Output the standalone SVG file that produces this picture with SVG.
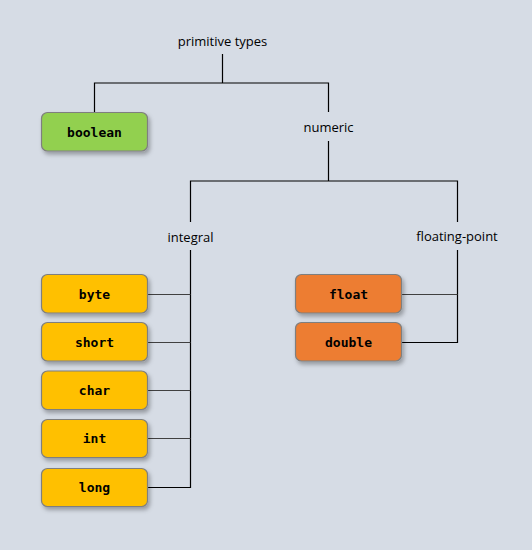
<svg xmlns="http://www.w3.org/2000/svg" width="532" height="550" viewBox="0 0 532 550">
<defs>
<filter id="sh" x="-20%" y="-20%" width="150%" height="160%">
<feDropShadow dx="2" dy="3" stdDeviation="2" flood-color="#000" flood-opacity="0.3"/>
</filter>
<style>
.box{stroke:#7f7f7f;stroke-width:1.2;filter:url(#sh)}
.g{fill:#92D050}.y{fill:#FFC000}.o{fill:#ED7D31}
.bt{font-family:"DejaVu Sans Mono","Liberation Mono",monospace;font-weight:bold;font-size:13px;fill:#000;text-anchor:middle}
.lb{font-family:"Open Sans","Liberation Sans",sans-serif;font-size:13px;fill:#000;text-anchor:middle}
.c{fill:none;stroke:#000;stroke-width:1.2}
.c2{fill:none;stroke:#404040;stroke-width:1.2}
</style>
</defs>
<rect width="532" height="550" fill="#D6DCE5"/>
<g id="connectors">
<path class="c" d="M222.5 54V83M94.5 112V83H328.5V112"/>
<path class="c" d="M328.5 141V181M190.5 222V181H457.5V222"/>
<path class="c" d="M190.5 250V487.5H148"/>
<path class="c2" d="M148 294.5H190.5M148 342.5H190.5M148 390.5H190.5M148 438.5H190.5"/>
<path class="c" d="M457.5 250V342.5H401"/>
<path class="c2" d="M401 294.5H457.5"/>
</g>
<g id="primitive-types"><text class="lb" x="222.5" y="46">primitive types</text></g>
<g id="numeric"><text class="lb" x="328.5" y="132">numeric</text></g>
<g id="integral"><text class="lb" x="190.5" y="242">integral</text></g>
<g id="floating-point"><text class="lb" x="457" y="241">floating-point</text></g>
<g id="boolean"><rect class="box g" x="41.5" y="112.5" width="106" height="38.5" rx="6"/><text class="bt" x="94.5" y="136.5">boolean</text></g>
<g id="byte"><rect class="box y" x="41.5" y="274.5" width="106" height="38.5" rx="6"/><text class="bt" x="94.5" y="298.5">byte</text></g>
<g id="short"><rect class="box y" x="41.5" y="322.5" width="106" height="38.5" rx="6"/><text class="bt" x="94.5" y="346.5">short</text></g>
<g id="char"><rect class="box y" x="41.5" y="371" width="106" height="38.5" rx="6"/><text class="bt" x="94.5" y="395">char</text></g>
<g id="int"><rect class="box y" x="41.5" y="419.5" width="106" height="38" rx="6"/><text class="bt" x="94.5" y="443">int</text></g>
<g id="long"><rect class="box y" x="41.5" y="468.5" width="106" height="38" rx="6"/><text class="bt" x="94.5" y="492">long</text></g>
<g id="float"><rect class="box o" x="295.5" y="274.5" width="106" height="38.5" rx="6"/><text class="bt" x="348.5" y="298.5">float</text></g>
<g id="double"><rect class="box o" x="295.5" y="322.5" width="106" height="38.5" rx="6"/><text class="bt" x="348.5" y="346.5">double</text></g>
</svg>
